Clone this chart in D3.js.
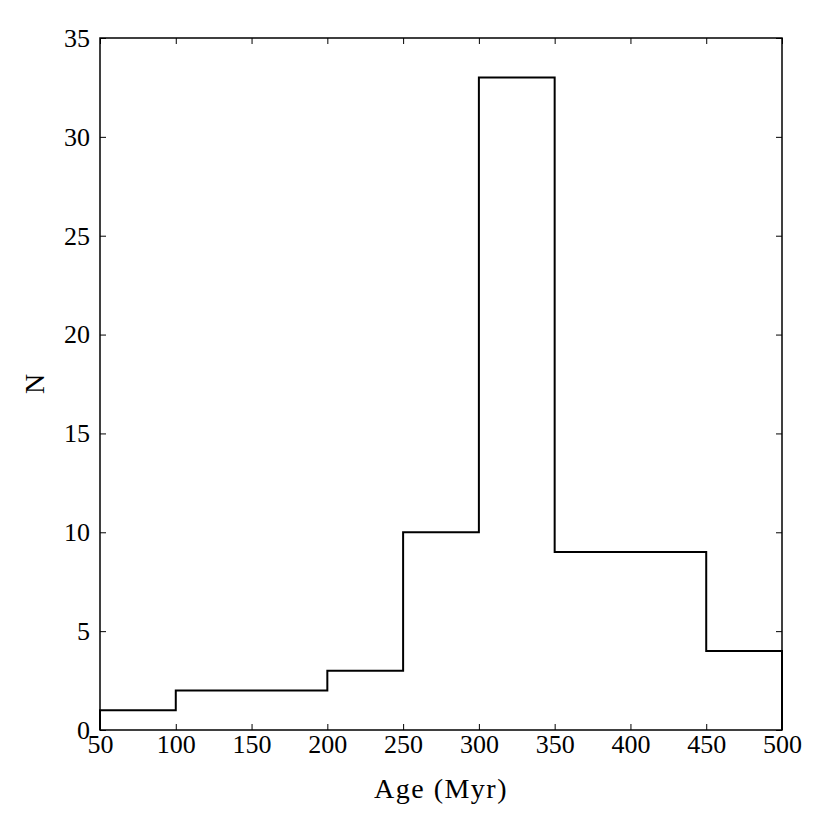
<!DOCTYPE html>
<html>
<head>
<style>
  body {
    margin: 0;
    background-color: #ffffff;
  }
  text {
    font-family: "Liberation Serif", "DejaVu Serif", serif;
    fill: #000;
  }
</style>
<script src="https://d3js.org/d3.v7.min.js"></script>
</head>
<body>
<script>
  const binEdges = [50, 100, 150, 200, 250, 300, 350, 400, 450, 500];
  const counts = [1, 2, 2, 3, 10, 33, 9, 9, 4];
  const xTicks = [50, 100, 150, 200, 250, 300, 350, 400, 450, 500];
  const yTicks = [0, 5, 10, 15, 20, 25, 30, 35];

  const width = 830;
  const height = 830;
  const margin = { top: 38, right: 48, bottom: 100, left: 100 };

  const svg = d3.select('body')
    .append('svg')
    .attr('width', width)
    .attr('height', height);

  const x = d3.scaleLinear()
    .domain([50, 500])
    .range([margin.left, width - margin.right]);

  const y = d3.scaleLinear()
    .domain([0, 35])
    .range([height - margin.bottom, margin.top]);

  // step outline of the histogram
  const steps = [];
  counts.forEach((c, i) => {
    steps.push([binEdges[i], c]);
    steps.push([binEdges[i + 1], c]);
  });
  steps.unshift([binEdges[0], 0]);
  steps.push([binEdges[binEdges.length - 1], 0]);

  svg.append('path')
    .datum(steps)
    .attr('fill', 'none')
    .attr('stroke', '#000')
    .attr('stroke-width', 2)
    .attr('stroke-linejoin', 'miter')
    .attr('d', d3.line().x(d => x(d[0])).y(d => y(d[1])));

  const tickLen = 6;
  const fontSize = 26;

  // bottom axis, ticks inside
  svg.append('g')
    .attr('transform', `translate(0,${y(0)})`)
    .call(d3.axisBottom(x).tickValues(xTicks).tickSizeInner(-tickLen).tickSizeOuter(0).tickPadding(5))
    .call(g => g.select('.domain').remove())
    .call(g => g.selectAll('text').attr('font-size', fontSize).attr('font-family', null));

  // top axis, ticks only
  svg.append('g')
    .attr('transform', `translate(0,${y(35)})`)
    .call(d3.axisTop(x).tickValues(xTicks).tickSizeInner(-tickLen).tickSizeOuter(0).tickFormat(''))
    .call(g => g.select('.domain').remove());

  // left axis
  svg.append('g')
    .attr('transform', `translate(${x(50)},0)`)
    .call(d3.axisLeft(y).tickValues(yTicks).tickSizeInner(-tickLen).tickSizeOuter(0).tickPadding(10))
    .call(g => g.select('.domain').remove())
    .call(g => g.selectAll('text').attr('font-size', fontSize).attr('font-family', null));

  // right axis, ticks only
  svg.append('g')
    .attr('transform', `translate(${x(500)},0)`)
    .call(d3.axisRight(y).tickValues(yTicks).tickSizeInner(-tickLen).tickSizeOuter(0).tickFormat(''))
    .call(g => g.select('.domain').remove());

  svg.selectAll('.tick line').attr('stroke', '#000').attr('stroke-width', 1);

  // frame
  svg.append('rect')
    .attr('x', x(50))
    .attr('y', y(35))
    .attr('width', x(500) - x(50))
    .attr('height', y(0) - y(35))
    .attr('fill', 'none')
    .attr('stroke', '#000')
    .attr('stroke-width', 1.5);

  svg.append('text')
    .attr('x', (x(50) + x(500)) / 2)
    .attr('y', 798)
    .attr('text-anchor', 'middle')
    .attr('font-size', 28)
    .attr('letter-spacing', 1.5)
    .text('Age (Myr)');

  svg.append('text')
    .attr('transform', `translate(44,${(y(0) + y(35)) / 2}) rotate(-90)`)
    .attr('text-anchor', 'middle')
    .attr('font-size', 28)
    .text('N');
</script>
</body>
</html>
